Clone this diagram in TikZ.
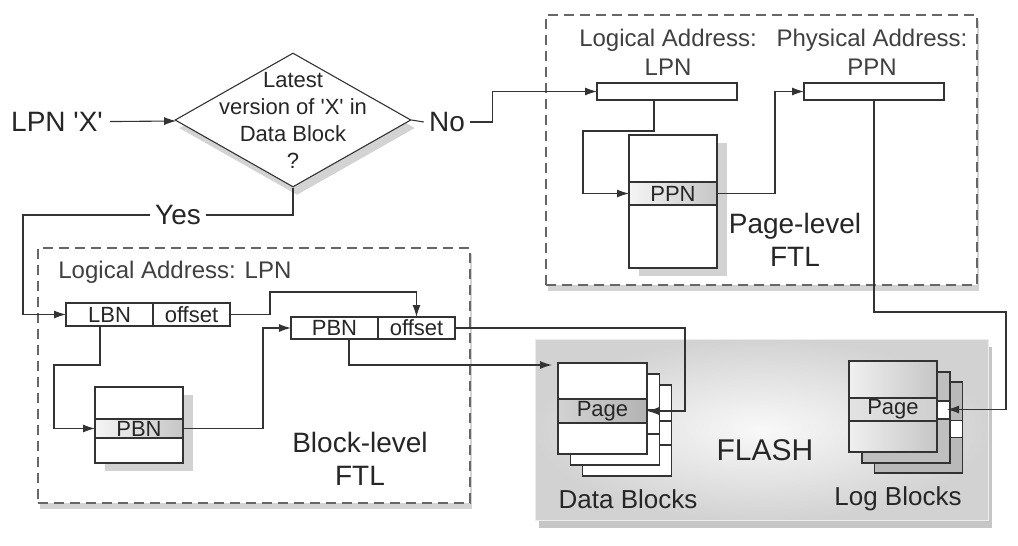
\documentclass[tikz,border=0pt]{standalone}
\usepackage{fontspec}
\setmainfont{Liberation Sans}
\usetikzlibrary{positioning,calc,shapes.geometric,arrows.meta,shadows}

\tikzset{
  ln/.style={draw=black!80, line width=0.55pt},
  arr/.style={ln, -{Latex[length=6pt,width=4pt]}},
  bigtxt/.style={font=\fontsize{14}{16.5}\selectfont, text=black!85},
  smalltxt/.style={font=\fontsize{12}{14.5}\selectfont, text=black!75},
  celltxt/.style={font=\fontsize{11}{12}\selectfont, text=black!85},
  frame/.style={draw=black!60, dash pattern=on 5pt off 3pt, line width=0.9pt, fill=white,
    drop shadow={shadow xshift=1pt, shadow yshift=-3pt, opacity=0.35}},
  cell/.style={ln, fill=white, inner sep=0pt, outer sep=0pt, celltxt},
  maptab/.style={cell, drop shadow={shadow xshift=5pt, shadow yshift=-4pt, opacity=0.35}},
  hirow/.style={cell, left color=gray!8, right color=gray!45},
}

\begin{document}
\begin{tikzpicture}[x=0.5pt, y=-0.5pt]
\useasboundingbox (0,0) rectangle (1018,546);

\node[frame, name=pagebox, minimum width=215.5pt, minimum height=135pt] at (761.5,150) {};
\node[frame, name=blockbox, minimum width=216pt, minimum height=127.5pt] at (254,375.5) {};
\node[name=flash, draw=white!85!gray, shading=radial, inner color=gray!5, outer color=gray!35,
  minimum width=226.5pt, minimum height=90.5pt,
  drop shadow={shadow xshift=2pt, shadow yshift=-4pt, opacity=0.45}] at (761.5,429.5) {};

\node[name=lpnx, bigtxt] at (57,122) {LPN \textquotesingle X\textquotesingle};
\node[name=dia, shape=diamond, ln, fill=white, inner sep=0pt, minimum width=118pt, minimum height=67pt,
  drop shadow={shadow xshift=2pt, shadow yshift=-4pt, opacity=0.35}] at (293,120) {};
\node[name=dtext, align=center, font=\fontsize{11}{13.5}\selectfont, text=black!85] at (dia.center)
  {Latest\\version of \textquotesingle X\textquotesingle{} in\\Data Block\\?};
\node[name=no, bigtxt, inner sep=2.5pt] at (447,122) {No};
\node[name=yes, bigtxt, inner sep=2.5pt] at (178,215) {Yes};

\node[name=lalabel, smalltxt, align=center] at (668,52) {Logical Address:\\LPN};
\node[name=palabel, smalltxt, align=center] at (872,52) {Physical Address:\\PPN};
\node[cell, name=lpnbox, minimum width=70pt, minimum height=8.5pt] at (667,91.5) {};
\node[cell, name=ppnbox, minimum width=70pt, minimum height=8.5pt] at (874,91.5) {};
\node[maptab, name=ptab, minimum width=44pt, minimum height=66.5pt] at (673,201.5) {};
\node[hirow, name=pprow, minimum width=44pt, minimum height=11.5pt] at (673,193.5) {PPN};
\node[name=pagelevel, bigtxt, align=center] at (795,240) {Page-level\\FTL};

\node[name=blabel, smalltxt, anchor=base west, inner sep=0pt] at (58,278) {Logical Address: LPN};
\node[cell, name=lbn, minimum width=43.5pt, minimum height=11.5pt] at (109.5,314.5) {LBN};
\node[cell, name=loff, right=0pt of lbn, minimum width=38.5pt, minimum height=11.5pt] {offset};
\node[cell, name=pbn, minimum width=43.5pt, minimum height=11pt] at (334.5,328) {PBN};
\node[cell, name=poff, right=0pt of pbn, minimum width=38.5pt, minimum height=11pt] {offset};
\node[maptab, name=btab, minimum width=44pt, minimum height=38pt] at (139,425) {};
\node[hirow, name=bprow, minimum width=44pt, minimum height=9.5pt] at (139,428.5) {PBN};
\node[name=blocklevel, bigtxt, align=center] at (360,459) {Block-level\\FTL};

\node[cell, name=db3, minimum width=44.5pt, minimum height=45.5pt] at (627,430.5) {};
\node[cell, name=dp3, minimum width=44.5pt, minimum height=12pt] at (627,433) {};
\node[cell, name=db2, minimum width=44.5pt, minimum height=45.5pt] at (615,419.5) {};
\node[cell, name=dp2, minimum width=44.5pt, minimum height=12pt] at (615,422) {};
\node[cell, name=db1, minimum width=44.5pt, minimum height=45.5pt] at (602.5,408.5) {};
\node[cell, name=dpage, left color=gray!35, right color=gray!60, minimum width=44.5pt, minimum height=12pt] at (602.5,411) {Page};

\node[cell, name=lb3, fill=gray!55, minimum width=44pt, minimum height=45.5pt] at (918.5,427.5) {};
\node[cell, name=lp3, minimum width=44pt, minimum height=8.5pt] at (918.5,429) {};
\node[cell, name=lb2, fill=gray!50, minimum width=44pt, minimum height=45.5pt] at (906,417.5) {};
\node[cell, name=lp2, minimum width=44pt, minimum height=9pt] at (906,410) {};
\node[cell, name=lb1, left color=gray!12, right color=gray!45, minimum width=44pt, minimum height=45.5pt] at (893,406.5) {};
\node[cell, name=lpage, left color=gray!22, right color=gray!38, minimum width=44pt, minimum height=11.5pt] at (893,409.5) {Page};

\node[name=flashlabel, font=\fontsize{15}{17}\selectfont, text=black!85] at (765,450) {FLASH};
\node[name=dblabel, font=\fontsize{13}{15}\selectfont, text=black!85] at (628,499) {Data Blocks};
\node[name=lblabel, font=\fontsize{13}{15}\selectfont, text=black!85] at (898,499) {Log Blocks};
\coordinate (dtip) at (552,365);

\draw[arr] (lpnx) -- (dia);
\draw[ln] (dia.east) -- (no.west);
\draw[arr] (no.east) -- ++(22,0) |- (lpnbox.west);
\draw[ln] (dia.south) |- (yes.east);
\draw[arr] (yes.west) -| ($(lbn.west)+(-43,0)$) -- (lbn.west);
\draw[arr] ([xshift=-6.5pt]lpnbox.south) -- ++(0,31) -| ($(pprow.west)+(-46,0)$) -- (pprow.west);
\draw[arr] (pprow.east) -- ++(58,0) |- (ppnbox.west);
\draw[arr] (ppnbox.south) -- ++(0,212) -| ($(lpage.east)+(69,0)$) -- ($(lpage.east)+(10,0)$);
\draw[arr] (loff.east) -- ++(40,0) |- ($(poff.north)+(0,-25)$) -- (poff.north);
\draw[arr] ([xshift=-4.75pt]lbn.south) -- ++(0,39) -| ($(bprow.west)+(-41,0)$) -- (bprow.west);
\draw[arr] (bprow.east) -- ++(80,0) |- (pbn.west);
\draw[arr] (poff.east) -- ++(230,0) |- (dpage.east);
\draw[arr] ([xshift=7.25pt]pbn.south) |- (dtip);
\end{tikzpicture}
\end{document}
